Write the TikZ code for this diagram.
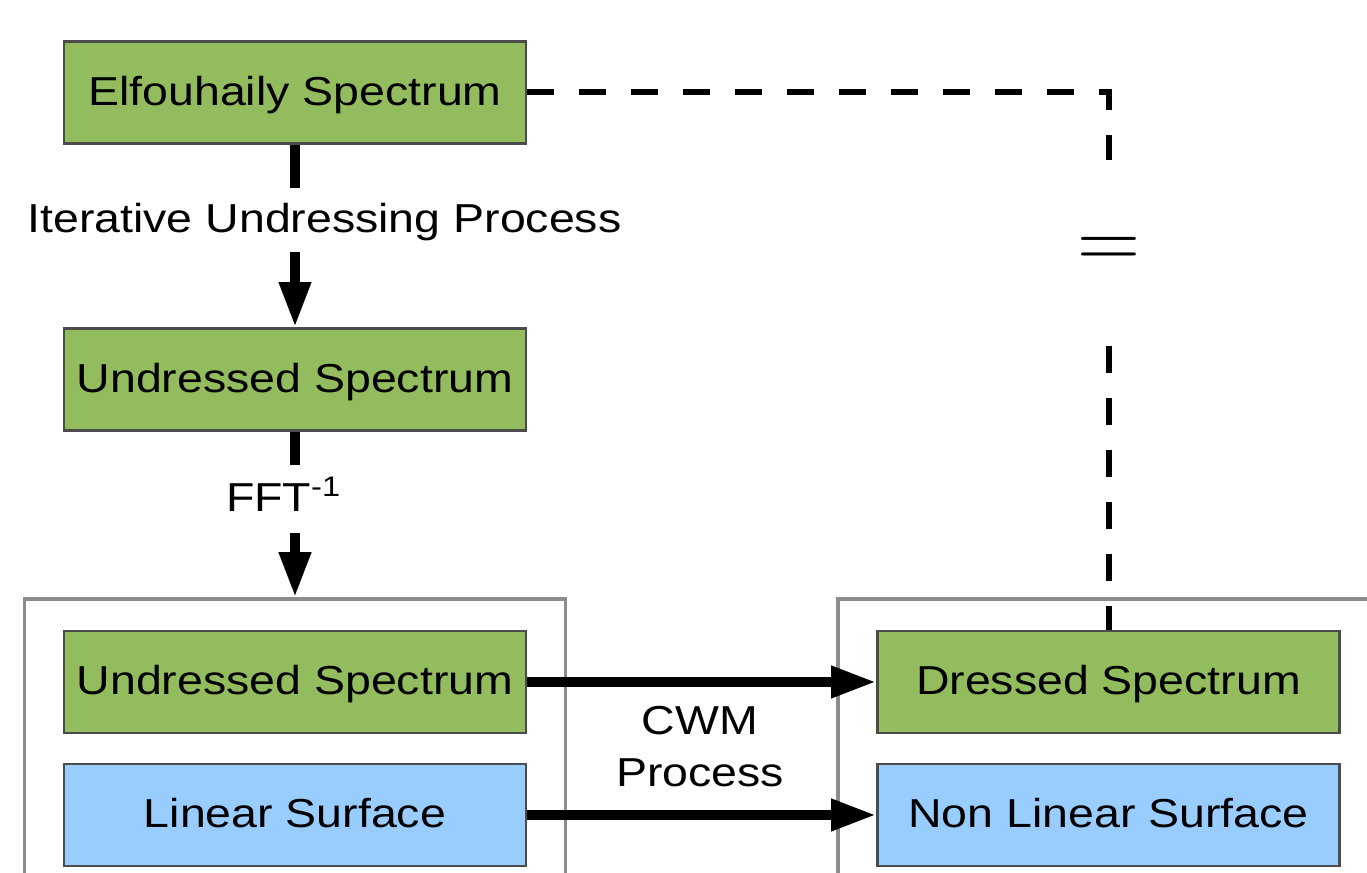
\documentclass[tikz,border=0pt]{standalone}
\usepackage{fontspec}
\setmainfont{Liberation Sans}[FakeStretch=1.15]
\usepackage{xcolor}
\usetikzlibrary{arrows.meta}

\definecolor{specgreen}{HTML}{93BC5E}
\definecolor{surfblue}{HTML}{99CCFF}

\begin{document}
\begin{tikzpicture}
    [font=\fontsize{11.5}{15}\selectfont,
    block/.style={shape=rectangle,draw=black!70,line width=0.8pt,minimum width=4.62cm,minimum height=1.02cm,inner sep=0pt,text height=0.72em,text depth=0pt},
    spec/.style={fill=specgreen},
    surf/.style={fill=surfblue},
    group/.style={shape=rectangle,draw=black!45,line width=1pt,minimum height=3.1cm},
    arc/.style={-{Triangle[length=0.45cm,width=0.3cm]},line width=2.8pt},
    arclabel/.style={fill=white,inner sep=0pt,text height=0.72em,text depth=0pt},
    link/.style={dash pattern=on 0.27cm off 0.25cm,line width=1.7pt}]

    \useasboundingbox (0,0) rectangle (13.67,8.73);

    % the two groups, cut off at the bottom
    \node (grpleft) [group,minimum width=5.41cm] at (2.95,1.19) {};
    \node (grpright) [group,minimum width=5.8cm] at (11.28,1.19) {};

    \node (elf) [block,spec] at (2.95,7.805) {Elfouhaily Spectrum};
    \node (und) [block,spec] at (2.95,4.935) {Undressed Spectrum};
    \node (undcwm) [block,spec] at (2.95,1.91) {Undressed Spectrum};
    \node (lin) [block,surf] at (2.95,0.58) {Linear Surface};
    \node (dre) [block,spec] at (11.085,1.91) {Dressed Spectrum};
    \node (nonlin) [block,surf] at (11.085,0.58) {Non Linear Surface};
    \node (eq) [minimum height=1.85cm,inner sep=0pt] at (11.09,6.2) {\fontsize{28}{28}\selectfont$=$};

    \draw [arc] (elf) -- (und);
    \node (iup) [arclabel,minimum height=0.64cm] at (3.245,6.53) {Iterative Undressing Process};
    \draw [arc] (und) -- (grpleft);
    \node (fft) [arclabel,minimum height=0.68cm] at (2.84,3.74) {FFT\textsuperscript{-1}};

    \draw [arc] (undcwm) -- (dre);
    \draw [arc] (lin) -- (nonlin);
    \node (cwm) [align=center] at (7.0,1.265) {CWM\\Process};

    \draw [link] (elf.east) -| (eq.north);
    \draw [link] (eq.south) -- (eq.south |- dre.north);
  \end{tikzpicture}
\end{document}
